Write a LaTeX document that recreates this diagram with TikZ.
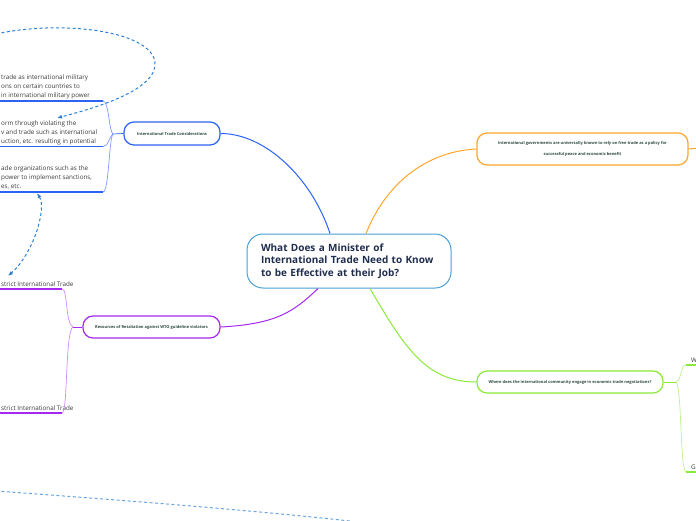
\documentclass[tikz,border=0pt]{standalone}
\usepackage{fontspec}
\setmainfont{Open Sans}
\usepackage{tikz}
\usetikzlibrary{positioning,arrows.meta,calc}
\usepackage{xcolor}
\definecolor{rootline}{HTML}{4A9ED6}
\definecolor{rootink}{HTML}{1F2D4F}
\definecolor{boxink}{HTML}{2E4A3C}
\definecolor{leafink}{HTML}{3A3A3A}
\definecolor{blueb}{HTML}{2B63F5}
\definecolor{bluelt}{HTML}{7D9BFA}
\definecolor{linkblue}{HTML}{2A7FD6}
\definecolor{orangeb}{HTML}{FFA62B}
\definecolor{purpleb}{HTML}{A629F2}
\definecolor{purplelt}{HTML}{D08CF7}
\definecolor{greenb}{HTML}{8BEA3A}
\definecolor{greenlt}{HTML}{BDF290}

\begin{document}
\begin{tikzpicture}[x=1pt, y=-1pt, >=Latex,
    rootbox/.style={draw=rootline, line width=1pt, rounded corners=16pt, fill=white,
      minimum width=204pt, minimum height=54pt, inner xsep=14pt, text width=176pt,
      align=left, text=rootink, font=\fontsize{10}{12.6}\selectfont\bfseries},
    topicbox/.style={line width=1.2pt, rounded corners=10pt, fill=white, inner sep=0pt,
      align=center, text=boxink, font=\fontsize{4}{5}\selectfont\bfseries},
    leaf/.style={inner sep=0pt, align=left, text=leafink, anchor=south west,
      font=\fontsize{6.3}{9}\selectfont},
    under/.style={line width=1.8pt},
    twig/.style={line width=0.7pt},
    link/.style={linkblue, dashed, dash pattern=on 3pt off 2.5pt, line width=1pt, -{Latex[length=5pt,width=4pt]}}]
  \useasboundingbox (0,0) rectangle (696,520);
  \clip (0,0) rectangle (696,520);

  % main topics
  \node[rootbox] (root) at (349,261) {What Does a Minister of\\International Trade Need to Know\\to be Effective at their Job?};
  \node[topicbox, draw=blueb, minimum width=96pt, minimum height=23pt] (cons) at (172,133.5) {International Trade Considerations};
  \node[topicbox, draw=orangeb, minimum width=211pt, minimum height=32pt, font=\fontsize{4}{11}\selectfont\bfseries] (free) at (582.5,149) {International governments are universally known to rely on free trade as a policy for\\successful peace and economic benefit};
  \node[topicbox, draw=purpleb, minimum width=137pt, minimum height=22pt] (retal) at (151.5,327) {Resources of Retaliation against WTO guideline violators};
  \node[topicbox, draw=greenb, minimum width=186pt, minimum height=22pt] (negot) at (570,382) {Where does the international community engage in economic trade negotiations?};

  \draw[blueb, line width=1pt] ($(root.north)+(-19,0)$) .. controls +(-18,-55) and +(45,0) .. (cons.east);
  \draw[orangeb, line width=1pt] ($(root.north)+(17,0)$) .. controls +(22,-55) and +(-45,2) .. (free.west);
  \draw[purpleb, line width=1pt] ($(root.south)+(-31,0)$) .. controls +(-25,24) and +(55,-3) .. (retal.east);
  \draw[greenb, line width=1pt] ($(root.south)+(21,0)$) .. controls +(35,60) and +(-50,0) .. (negot.west);
  \coordinate (offright) at (700,148);
  \draw[orangeb, line width=1pt] (free.east) -- (offright);

  % considerations
  \node[leaf] (k1) at (1,99) {trade as international military\\ons on certain countries to\\in international military power};
  \node[leaf] (k2) at (1,145) {orm through violating the\\v and trade such as international\\uction, etc. resulting in potential};
  \node[leaf] (k3) at (1,190) {ade organizations such as the\\power to implement sanctions,\\es, etc.};
  \coordinate (k1r) at (103,101);
  \coordinate (k2r) at (103,146.5);
  \coordinate (k3r) at (103,192);
  \foreach \r in {k1r,k2r,k3r}
    \draw[blueb, under] (-2,0 |- \r) -- (\r);
  \coordinate (bfork) at (113,134);
  \draw[blueb, twig] (cons.west) -- (bfork);
  \draw[bluelt, twig] (bfork) .. controls +(-4,-2) and +(6,0) .. (k1r);
  \draw[bluelt, twig] (bfork) .. controls +(-4,2) and +(6,0) .. (k2r);
  \draw[bluelt, twig] (bfork) .. controls +(-4,4) and +(6,0) .. (k3r);

  % retaliation
  \node[leaf] (r1) at (1,287) {strict International Trade};
  \node[leaf] (r2) at (1,411) {strict International Trade};
  \coordinate (r1r) at (62,289);
  \coordinate (r2r) at (62,413);
  \foreach \r in {r1r,r2r}
    \draw[purpleb, under] (-2,0 |- \r) -- (\r);
  \coordinate (pfork) at (73,327);
  \draw[purpleb, twig] (retal.west) -- (pfork);
  \draw[purplelt, twig] (pfork) .. controls +(-8,-4) and +(6,0) .. (r1r);
  \draw[purplelt, twig] (pfork) .. controls +(-8,4) and +(6,0) .. (r2r);

  % negotiations
  \node[leaf] (g1) at (691,363) {W};
  \node[leaf] (g2) at (691,470) {G};
  \coordinate (g1l) at (686,365);
  \coordinate (g2l) at (686,472);
  \foreach \r in {g1l,g2l}
    \draw[greenb, under] (\r) -- (700,0 |- \r);
  \coordinate (gfork) at (676,382);
  \draw[greenb, twig] (negot.east) -- (gfork);
  \draw[greenlt, twig] (gfork) .. controls +(6,-2) and +(-6,0) .. (g1l);
  \draw[greenlt, twig] (gfork) .. controls +(6,6) and +(-6,0) .. (g2l);

  % relationships
  \coordinate (lstart) at (-4,34);
  \coordinate (k2top) at (57,118);
  \draw[link] (lstart) .. controls (60,20) and (150,30) .. (155,62) .. controls (158,90) and (95,108) .. (k2top);
  \coordinate (k3bot) at (37,193);
  \coordinate (r1top) at (8,276);
  \draw[link, {Latex[length=5pt,width=4pt]}-{Latex[length=5pt,width=4pt]}] (k3bot) .. controls +(10,16) and +(25,-22) .. (r1top);
  \coordinate (bstart) at (-4,491);
  \coordinate (bend) at (350,521);
  \draw[linkblue!70, dashed, dash pattern=on 3pt off 2.5pt, line width=1pt] (bstart) .. controls (120,500) and (250,510) .. (bend);
\end{tikzpicture}
\end{document}
